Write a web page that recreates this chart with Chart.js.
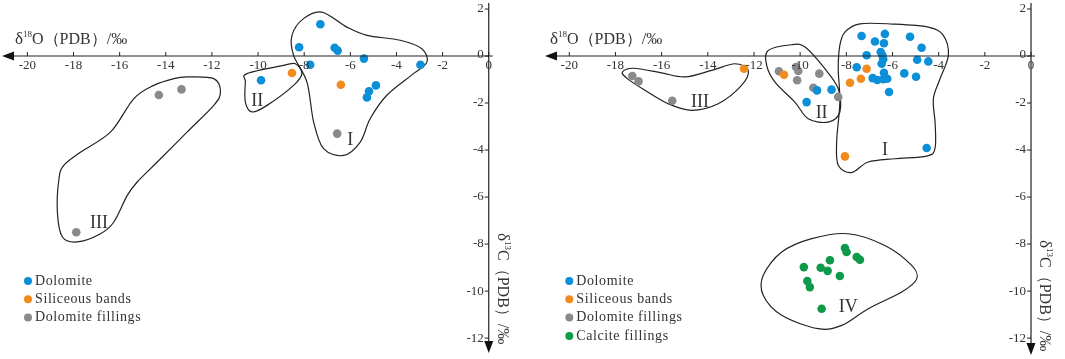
<!DOCTYPE html>
<html>
<head>
<meta charset="utf-8">
<script src="https://cdn.jsdelivr.net/npm/chart.js@4"></script>
<style>
    body { margin: 0; background: #fff; }
    #wrap { position: relative; width: 1065px; height: 359px; }
    canvas { position: absolute; top: 0; }
</style>
</head>
<body>
<div id="wrap">
    <canvas id="leftChart" width="532" height="359" style="left:0"></canvas>
    <canvas id="rightChart" width="533" height="359" style="left:532px"></canvas>
</div>
<script>
// ================= DATA =================
const xTicks = [-20, -18, -16, -14, -12, -10, -8, -6, -4, -2, 0];
const yTicks = [2, 0, -2, -4, -6, -8, -10, -12];

// left panel  [δ18O, δ13C]
const leftDolomite = [
    [-7.3, 1.35], [-8.22, 0.37], [-6.68, 0.35], [-6.55, 0.23], [-7.74, -0.37],
    [-5.41, -0.11], [-2.96, -0.37], [-9.87, -1.03], [-4.89, -1.25], [-5.19, -1.5],
    [-5.28, -1.76],
];
const leftSiliceous = [[-8.53, -0.72], [-6.41, -1.22]];
const leftFillings = [[-14.3, -1.66], [-13.32, -1.42], [-6.57, -3.3], [-17.88, -7.5]];

// right panel
const rightDolomite = [
    [-7.34, 0.85], [-6.33, 0.94], [-5.24, 0.82], [-6.76, 0.62], [-6.37, 0.54],
    [-4.74, 0.35], [-7.12, 0.03], [-6.51, 0.17], [-6.44, 0.03], [-6.4, -0.14],
    [-6.47, -0.33], [-4.93, -0.16], [-4.45, -0.23], [-7.55, -0.48], [-6.37, -0.71],
    [-5.49, -0.74], [-4.98, -0.88], [-6.86, -0.94], [-6.66, -1.02], [-6.4, -0.99],
    [-6.23, -0.97], [-6.15, -1.53], [-8.64, -1.43], [-9.27, -1.46], [-9.72, -1.96],
    [-4.52, -3.91],
];
const rightSiliceous = [
    [-12.43, -0.54], [-10.7, -0.8], [-7.12, -0.54], [-7.37, -0.97], [-7.84, -1.14],
    [-8.06, -4.27],
];
const rightFillings = [
    [-17.27, -0.85], [-17.0, -1.08], [-15.54, -1.9], [-10.92, -0.65], [-10.18, -0.47],
    [-10.08, -0.64], [-10.13, -1.03], [-9.17, -0.75], [-9.43, -1.35], [-8.35, -1.74],
];
const rightCalcite = [
    [-8.06, -8.17], [-7.99, -8.34], [-7.55, -8.55], [-7.41, -8.67], [-8.71, -8.69],
    [-9.84, -8.98], [-9.11, -9.01], [-8.81, -9.14], [-8.28, -9.36], [-9.69, -9.57],
    [-9.58, -9.83], [-9.07, -10.75],
];

// group outlines (closed smooth curves) + labels
const leftZoneI = [
    [-7.23, 1.87], [-6.15, 1.23], [-5.28, 0.88], [-3.84, 0.67], [-2.9, 0.31],
    [-2.68, -0.26], [-3.26, -0.75], [-4.42, -1.67], [-5.14, -2.67], [-5.57, -3.66],
    [-6.29, -4.23], [-7.16, -3.94], [-7.59, -2.81], [-7.88, -1.11], [-8.46, 0.03],
    [-8.53, 0.88], [-8.03, 1.59],
];
const leftZoneII = [
    [-10.48, -0.75], [-8.89, -0.4], [-8.38, -0.33], [-8.1, -0.75], [-8.46, -1.25],
    [-9.61, -2.1], [-10.26, -2.38], [-10.55, -1.96], [-10.55, -1.1],
];
const leftZoneIII = [
    [-13.07, -0.89], [-11.92, -0.96], [-11.63, -1.53], [-11.92, -2.1], [-13.07, -3.23],
    [-14.37, -4.51], [-15.24, -5.36], [-15.67, -5.93], [-16.25, -7.06], [-16.83, -7.56],
    [-17.84, -7.91], [-18.48, -7.7], [-18.7, -6.64], [-18.63, -5.22], [-18.42, -4.65],
    [-17.7, -4.09], [-16.39, -3.23], [-15.39, -1.82], [-14.52, -1.25], [-13.65, -0.96],
];
const rightZoneI = [
    [-8.06, 1.02], [-7.41, 1.37], [-6.0, 1.36], [-4.45, 1.23], [-3.8, 0.88],
    [-3.58, 0.03], [-3.94, -0.97], [-4.23, -1.82], [-4.15, -2.9], [-4.16, -3.94],
    [-4.52, -4.26], [-5.89, -4.37], [-7.05, -4.51], [-7.77, -4.96], [-8.35, -4.65],
    [-8.42, -3.66], [-8.28, -1.96], [-8.35, -0.54], [-8.28, 0.46],
];
const rightZoneII = [
    [-11.38, 0.24], [-10.37, 0.48], [-9.79, 0.38], [-8.93, -0.54], [-8.35, -1.39],
    [-8.28, -2.38], [-8.78, -2.81], [-9.65, -2.67], [-10.23, -1.96], [-11.09, -1.11],
    [-11.45, -0.4],
];
const rightZoneIII = [
    [-17.7, -0.68], [-17.2, -0.52], [-16.0, -0.72], [-14.99, -0.89], [-13.83, -0.61],
    [-12.83, -0.33], [-12.25, -0.61], [-12.54, -1.25], [-13.55, -2.03], [-14.7, -2.31],
    [-15.72, -2.03], [-16.72, -1.46], [-17.5, -0.95],
];
const rightZoneIV = [
    [-7.92, -7.56], [-6.33, -8.06], [-5.17, -8.91], [-4.95, -9.48], [-5.6, -10.04],
    [-7.05, -10.75], [-8.2, -11.46], [-9.22, -11.6], [-10.8, -11.03], [-11.6, -10.18],
    [-11.6, -9.33], [-10.8, -8.34], [-9.5, -7.77],
];

const leftZoneLabels = [["I", -6.0, -3.6], ["II", -10.04, -1.91], ["III", -16.9, -7.13]];
const rightZoneLabels = [["I", -6.33, -3.99], ["II", -9.07, -2.45], ["III", -14.34, -1.96], ["IV", -7.92, -10.68]];

const COLORS = {
    dolomite: "#0b8fd8",
    siliceous: "#f28a1e",
    fillings: "#8a8a8a",
    calcite: "#0d9a4a",
};
const TEXT = "#333";
const SERIF = "'Liberation Serif', 'Times New Roman', serif";

const toPts = (arr) => arr.map(([x, y]) => ({ x, y }));

// ================= PLUGINS =================
const drawClosedCurve = (ctx, pts) => {
    const n = pts.length;
    ctx.beginPath();
    ctx.moveTo(pts[0][0], pts[0][1]);
    for (let i = 0; i < n; i++) {
        const p0 = pts[(i - 1 + n) % n];
        const p1 = pts[i];
        const p2 = pts[(i + 1) % n];
        const p3 = pts[(i + 2) % n];
        ctx.bezierCurveTo(
            p1[0] + (p2[0] - p0[0]) / 6, p1[1] + (p2[1] - p0[1]) / 6,
            p2[0] - (p3[0] - p1[0]) / 6, p2[1] - (p3[1] - p1[1]) / 6,
            p2[0], p2[1]
        );
    }
    ctx.closePath();
    ctx.stroke();
};

const zonesPlugin = {
    id: "zones",
    beforeDatasetsDraw(chart, args, opts) {
        const { ctx, scales } = chart;
        const px = (v) => scales.x.getPixelForValue(v);
        const py = (v) => scales.y.getPixelForValue(v);
        ctx.save();
        ctx.strokeStyle = "#222";
        ctx.lineWidth = 1.2;
        opts.zones.forEach((zone) => {
            drawClosedCurve(ctx, zone.map(([x, y]) => [px(x), py(y)]));
        });
        ctx.fillStyle = TEXT;
        ctx.font = `18px ${SERIF}`;
        ctx.textAlign = "center";
        ctx.textBaseline = "middle";
        opts.labels.forEach(([t, x, y]) => ctx.fillText(t, px(x), py(y)));
        ctx.restore();
    },
};

const axesPlugin = {
    id: "crossAxes",
    afterDraw(chart, args, opts) {
        const { ctx, scales } = chart;
        const x0 = scales.x.getPixelForValue(0);
        const y0 = scales.y.getPixelForValue(0);
        ctx.save();
        ctx.strokeStyle = "#222";
        ctx.fillStyle = "#111";
        ctx.lineWidth = 1.2;

        // x axis with arrow to the left
        ctx.beginPath();
        ctx.moveTo(opts.arrowX + 8, y0);
        ctx.lineTo(x0 + 4, y0);
        ctx.stroke();
        ctx.beginPath();
        ctx.moveTo(opts.arrowX, y0);
        ctx.lineTo(opts.arrowX + 12, y0 - 4.5);
        ctx.lineTo(opts.arrowX + 12, y0 + 4.5);
        ctx.closePath();
        ctx.fill();

        // y axis with arrow downward
        ctx.beginPath();
        ctx.moveTo(x0, 3);
        ctx.lineTo(x0, opts.arrowY - 8);
        ctx.stroke();
        ctx.beginPath();
        ctx.moveTo(x0, opts.arrowY);
        ctx.lineTo(x0 - 4.5, opts.arrowY - 12);
        ctx.lineTo(x0 + 4.5, opts.arrowY - 12);
        ctx.closePath();
        ctx.fill();

        // ticks + labels
        ctx.lineWidth = 1;
        ctx.fillStyle = TEXT;
        ctx.font = `13px ${SERIF}`;
        ctx.textAlign = "center";
        ctx.textBaseline = "top";
        xTicks.forEach((v) => {
            const x = scales.x.getPixelForValue(v);
            ctx.beginPath();
            ctx.moveTo(x, y0);
            ctx.lineTo(x, y0 - 4);
            ctx.stroke();
            ctx.fillText(String(v), x, y0 + 3);
        });
        ctx.textAlign = "right";
        ctx.textBaseline = "middle";
        yTicks.forEach((v) => {
            const y = scales.y.getPixelForValue(v);
            ctx.beginPath();
            ctx.moveTo(x0, y);
            ctx.lineTo(x0 - 4, y);
            ctx.stroke();
            ctx.fillText(String(v), x0 - 5, v === 0 ? y - 1 : y);
        });

        // axis titles
        const drawTitle = (x, y) => {
            ctx.textAlign = "left";
            ctx.textBaseline = "alphabetic";
            ctx.font = `17px ${SERIF}`;
            ctx.fillText("δ", x, y);
            let w = ctx.measureText("δ").width;
            ctx.font = `9px ${SERIF}`;
            ctx.fillText(opts.iso === "O" ? "18" : "13", x + w, y - 7);
            w += ctx.measureText("18").width;
            ctx.font = `16px ${SERIF}`;
            ctx.fillText(opts.iso === "O" ? "O（PDB）/‰" : "C（PDB）/‰", x + w, y);
        };
        ctx.fillStyle = TEXT;
        opts.iso = "O";
        drawTitle(opts.xTitle[0], opts.xTitle[1]);
        ctx.save();
        ctx.translate(opts.yTitle[0], opts.yTitle[1]);
        ctx.rotate(Math.PI / 2);
        opts.iso = "C";
        drawTitle(0, 5);
        ctx.restore();

        // legend
        ctx.font = `14px ${SERIF}`;
        ctx.textAlign = "left";
        ctx.textBaseline = "middle";
        opts.legend.forEach(([name, color], i) => {
            const y = opts.legendPos[1] + i * 18.3;
            ctx.fillStyle = color;
            ctx.beginPath();
            ctx.arc(opts.legendPos[0], y, 4, 0, Math.PI * 2);
            ctx.fill();
            ctx.fillStyle = TEXT;
            ctx.letterSpacing = "0.6px";
            ctx.fillText(name, opts.legendPos[0] + 7, y);
            ctx.letterSpacing = "0px";
        });
        ctx.restore();
    },
};

// ================= CHARTS =================
const dataset = (label, pts, color) => ({
    label,
    data: toPts(pts),
    backgroundColor: color,
    borderColor: color,
    pointRadius: 4.3,
    pointBorderWidth: 0,
});

const makeChart = (id, datasets, padding, zones, labels, axisOpts) =>
    new Chart(document.getElementById(id), {
        type: "scatter",
        data: { datasets },
        options: {
            responsive: false,
            animation: false,
            layout: { padding },
            scales: {
                x: { type: "linear", min: -21, max: 1, display: false },
                y: { type: "linear", min: -12.6, max: 2.2, display: false },
            },
            plugins: {
                legend: { display: false },
                tooltip: { enabled: false },
                zones: { zones, labels },
                crossAxes: axisOpts,
            },
        },
        plugins: [zonesPlugin, axesPlugin],
    });

makeChart(
    "leftChart",
    [
        dataset("Dolomite", leftDolomite, COLORS.dolomite),
        dataset("Siliceous bands", leftSiliceous, COLORS.siliceous),
        dataset("Dolomite fillings", leftFillings, COLORS.fillings),
    ],
    { left: 2.87, right: 20.2, top: 1.93, bottom: 6.8 },
    [leftZoneI, leftZoneII, leftZoneIII],
    leftZoneLabels,
    {
        arrowX: 2,
        arrowY: 353,
        xTitle: [15, 44],
        yTitle: [503, 233],
        legendPos: [28, 281],
        legend: [
            ["Dolomite", COLORS.dolomite],
            ["Siliceous bands", COLORS.siliceous],
            ["Dolomite fillings", COLORS.fillings],
        ],
    }
);

makeChart(
    "rightChart",
    [
        dataset("Dolomite", rightDolomite, COLORS.dolomite),
        dataset("Siliceous bands", rightSiliceous, COLORS.siliceous),
        dataset("Dolomite fillings", rightFillings, COLORS.fillings),
        dataset("Calcite fillings", rightCalcite, COLORS.calcite),
    ],
    { left: 14.2, right: 10.9, top: 1.93, bottom: 6.8 },
    [rightZoneI, rightZoneII, rightZoneIII, rightZoneIV],
    rightZoneLabels,
    {
        arrowX: 13,
        arrowY: 355,
        xTitle: [18, 44],
        yTitle: [513, 240],
        legendPos: [37.3, 281],
        legend: [
            ["Dolomite", COLORS.dolomite],
            ["Siliceous bands", COLORS.siliceous],
            ["Dolomite fillings", COLORS.fillings],
            ["Calcite fillings", COLORS.calcite],
        ],
    }
);
</script>
</body>
</html>
